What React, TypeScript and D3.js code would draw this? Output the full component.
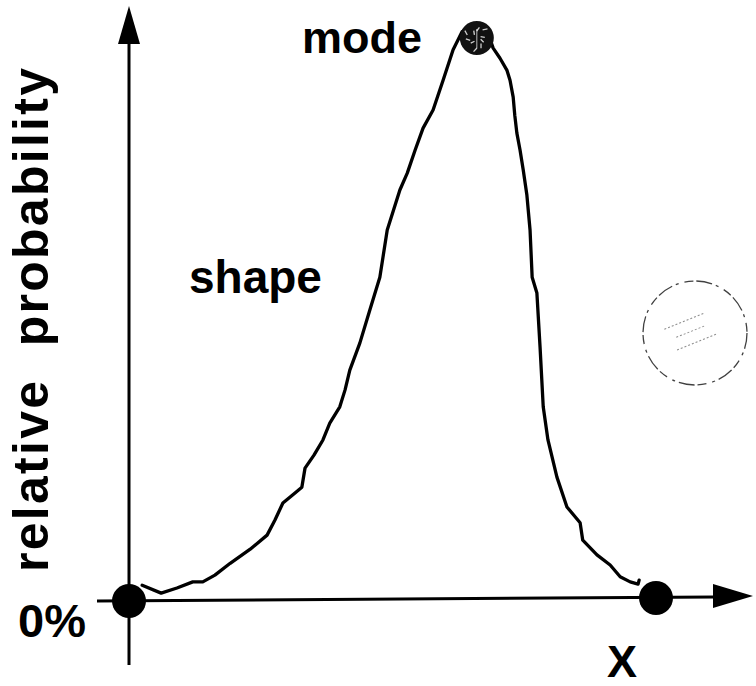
import React from "react";
import * as d3 from "d3";

// Hand-drawn probability curve, x in % of range between the two end dots,
// y in % of the mode height.
const curveX = [2.5, 6.1, 9.1, 12.1, 14.0, 16.3, 19.2, 23.0, 26.2, 27.7, 29.2, 31.5, 32.8, 33.4, 35.1, 36.8, 38.1, 40.0, 41.0, 41.9, 43.8, 45.7, 47.6, 48.2, 49.0, 51.4, 52.8, 54.3, 55.8, 57.7, 59.6, 61.5, 63.2, 66.0, 67.9, 69.1, 70.4, 71.7, 72.3, 72.9, 73.2, 73.6, 74.2, 74.8, 75.5, 76.1, 76.5, 77.4, 78.0, 78.6, 79.5, 81.2, 83.1, 85.6, 86.1, 88.8, 91.3, 93.2, 95.1, 96.6, 96.8];
const curveY = [2.8, 1.4, 2.3, 3.4, 3.4, 4.6, 6.7, 9.2, 11.7, 14.4, 17.4, 19.2, 20.2, 23.6, 25.9, 28.6, 31.6, 34.5, 37.5, 41.0, 45.8, 51.7, 57.5, 61.1, 65.9, 73.0, 76.0, 80.1, 84.0, 87.2, 92.5, 97.9, 101.1, 102.5, 101.4, 98.2, 96.4, 94.3, 92.5, 89.5, 86.3, 83.1, 80.1, 76.6, 72.1, 65.9, 57.5, 54.7, 45.1, 34.5, 28.6, 22.0, 16.7, 13.9, 10.8, 8.2, 6.4, 4.3, 3.4, 3.0, 3.7];

const endDotsX = [0, 100];
const modeX = [66.0];
const modeY = [100];

const yLabel = "relative  probability";
const zeroLabel = "0%";
const xLabel = "X";
const modeLabel = "mode";
const shapeLabel = "shape";

export default function App() {
  const W = 756, H = 686;
  const x = d3.scaleLinear().domain([0, 100]).range([129, 656]);
  const y = d3.scaleLinear().domain([0, 100]).range([601, 38]);

  const pts: [number, number][] = curveX.map((v, i) => [v, curveY[i]]);
  const line = d3.line<[number, number]>()
    .x(d => x(d[0]))
    .y(d => y(d[1]))
    .curve(d3.curveLinear);

  const font = "'Liberation Sans', Arial, Helvetica, sans-serif";
  const y0 = y(0);
  const ax = x(0);

  const mx = x(modeX[0]);
  const my = y(modeY[0]);
  const specks = d3.range(10).map(i => {
    const a = (i / 10) * Math.PI * 2 + 0.3;
    const r1 = 4 + (i % 3) * 3;
    return { x1: mx + Math.cos(a) * r1, y1: my + Math.sin(a) * r1, x2: mx + Math.cos(a + 0.25) * (r1 + 4), y2: my + Math.sin(a + 0.25) * (r1 + 4) };
  });

  return (
    <svg width={W} height={H} style={{ position: "absolute", left: 0, top: 0, background: "#fff" }}>
      {/* y axis */}
      <line x1={ax} y1={665} x2={ax} y2={40} stroke="#000" strokeWidth={3} />
      <path d={`M${ax},6 L${ax - 11},44 L${ax + 11},44 Z`} fill="#000" />
      {/* x axis */}
      <line x1={97} y1={y0} x2={715} y2={y0 - 4} stroke="#000" strokeWidth={3} />
      <path d={`M753,${y0 - 5} L713,${y0 - 17} L713,${y0 + 7} Z`} fill="#000" />

      {/* curve */}
      <path d={line(pts) || ""} fill="none" stroke="#000" strokeWidth={3.3} strokeLinejoin="round" strokeLinecap="round" />

      {/* end dots */}
      {endDotsX.map((v, i) => (
        <circle key={i} cx={x(v)} cy={y0 - (i === 1 ? 3 : 0)} r={17} fill="#000" />
      ))}

      {/* mode dot */}
      <circle cx={mx} cy={my} r={17} fill="#111" />
      {specks.map((s, i) => (
        <line key={i} x1={s.x1} y1={s.y1} x2={s.x2} y2={s.y2} stroke="#fff" strokeWidth={1.3} opacity={0.8} />
      ))}
      <line x1={mx} y1={my - 9} x2={mx} y2={my + 10} stroke="#fff" strokeWidth={1} opacity={0.7} />

      {/* labels */}
      <text x={302} y={53} fontFamily={font} fontWeight="bold" fontSize={45} fill="#000">{modeLabel}</text>
      <text x={189} y={293} fontFamily={font} fontWeight="bold" fontSize={46} fill="#000">{shapeLabel}</text>
      <text x={18} y={637} fontFamily={font} fontWeight="bold" fontSize={47} fill="#000">{zeroLabel}</text>
      <text x={607} y={677} fontFamily={font} fontWeight="bold" fontSize={45} fill="#000">{xLabel}</text>
      <text
        transform="translate(48,572) rotate(-90)"
        x={0} y={0}
        fontFamily={font} fontWeight="bold" fontSize={50} fill="#000"
        textLength={504} lengthAdjust="spacing"
        style={{ whiteSpace: "pre" }}
      >{yLabel}</text>

      {/* faint stamp */}
      <circle cx={695} cy={333} r={52} fill="none" stroke="#000" strokeWidth={1.3} strokeDasharray="16 4 3 6 9 3" opacity={0.75} />
      <g transform="rotate(-22 695 333)" stroke="#444" strokeWidth={1} strokeDasharray="2 2" opacity={0.6}>
        <line x1={668} y1={318} x2={712} y2={318} />
        <line x1={676} y1={330} x2={708} y2={330} />
        <line x1={672} y1={342} x2={716} y2={342} />
      </g>
    </svg>
  );
}
